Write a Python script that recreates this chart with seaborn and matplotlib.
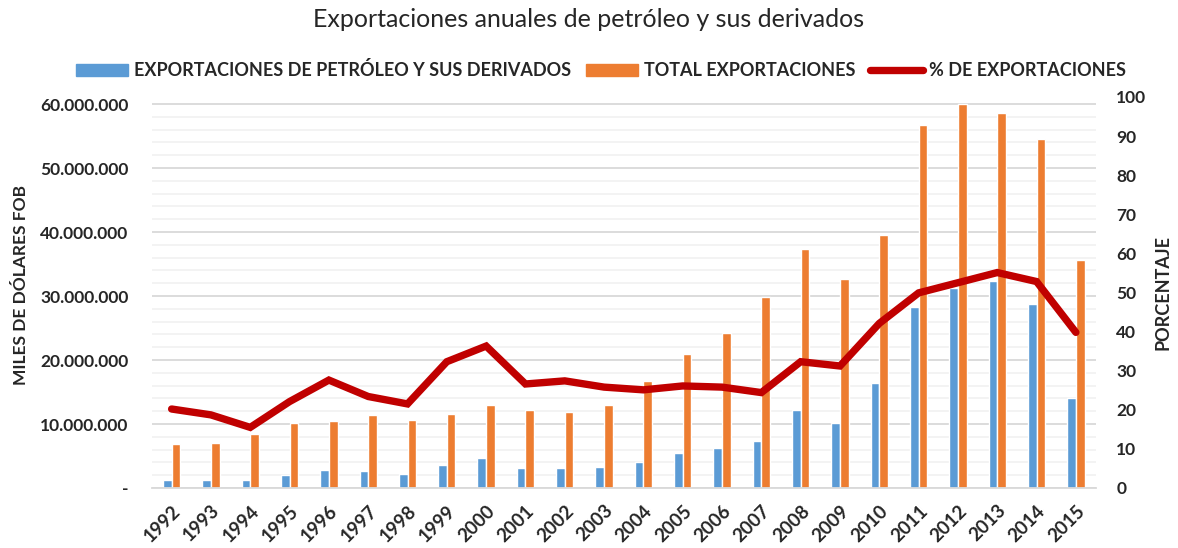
import matplotlib
matplotlib.use("Agg")
import matplotlib.pyplot as plt
import matplotlib.ticker as mtick
from matplotlib.patches import Patch
from matplotlib.lines import Line2D
import numpy as np
import pandas as pd
import seaborn as sns

sns.set_theme(style="white")
plt.rcParams["font.family"] = ["Lato", "DejaVu Sans"]

# values (miles de dólares FOB, and % share)
years = [str(y) for y in range(1992, 2016)]
petroleo = [1.3, 1.25, 1.2, 2.07, 2.8, 2.6, 2.2, 3.6, 4.7, 3.2, 3.2, 3.3,
            4.1, 5.4, 6.2, 7.3, 12.2, 10.2, 16.4, 28.3, 31.3, 32.3, 28.8, 14.1]
total = [6.8, 7.06, 8.4, 10.1, 10.5, 11.4, 10.7, 11.5, 13.0, 12.2, 11.8, 13.0,
         16.7, 21.0, 24.2, 29.9, 37.4, 32.7, 39.6, 56.7, 60.0, 58.6, 54.6, 35.6]
porcentaje = [20.2, 18.7, 15.5, 22.1, 27.6, 23.4, 21.5, 32.3, 36.3, 26.6, 27.4, 25.8,
              25.1, 26.1, 25.8, 24.4, 32.3, 31.2, 42.1, 49.9, 52.5, 55.1, 52.8, 39.8]

lbl_pet = "EXPORTACIONES DE PETRÓLEO Y SUS DERIVADOS"
lbl_tot = "TOTAL EXPORTACIONES"
lbl_pct = "% DE EXPORTACIONES"
BLUE, ORANGE, RED = "#5B9BD5", "#ED7D31", "#C00000"

df = pd.DataFrame({
    "year": years * 2,
    "value": [v * 1e6 for v in petroleo + total],
    "serie": [lbl_pet] * len(years) + [lbl_tot] * len(years),
})

fig = plt.figure(figsize=(11.78, 5.48), dpi=100)
ax = fig.add_axes([0.129, 0.1095, 0.801, 0.7135])

sns.barplot(data=df, x="year", y="value", hue="serie", palette=[BLUE, ORANGE],
            width=0.44, gap=0, ax=ax, legend=False, saturation=1)
ax.set_ylim(0, 61.1e6)
ax.set_xlim(-0.5, len(years) - 0.5)
ax.yaxis.set_major_locator(mtick.MultipleLocator(10e6))
ax.yaxis.set_minor_locator(mtick.MultipleLocator(2e6))
ax.yaxis.set_major_formatter(mtick.FuncFormatter(
    lambda v, p: "-" if v == 0 else f"{v:,.0f}".replace(",", ".")))
ax.grid(axis="y", which="major", color="#D9D9D9", lw=1.3)
ax.grid(axis="y", which="minor", color="#F2F2F2", lw=1.3)
ax.set_axisbelow(True)
for s in ["top", "right", "left"]:
    ax.spines[s].set_visible(False)
ax.spines["bottom"].set_color("#D9D9D9")
ax.spines["bottom"].set_linewidth(1.3)
ax.xaxis.set_minor_locator(mtick.FixedLocator(np.arange(-0.5, len(years), 1)))
ax.tick_params(axis="x", which="minor", length=6, color="#D9D9D9", width=1.3)
ax.tick_params(axis="x", which="major", length=0, pad=10)
ax.tick_params(axis="y", which="both", length=0, pad=17)
plt.setp(ax.get_xticklabels(), rotation=45, ha="right", rotation_mode="anchor",
         fontsize=13.5, fontweight="bold")
plt.setp(ax.get_yticklabels(), fontsize=12.5, fontweight="bold")
ax.set_xlabel("")
ax.set_ylabel("MILES DE DÓLARES FOB", fontsize=12.5, fontweight="bold")
ax.yaxis.set_label_coords(-0.130, 0.52)

ax2 = ax.twinx()
sns.lineplot(x=np.arange(len(years)), y=porcentaje, color=RED, lw=5.3, ax=ax2,
             solid_capstyle="round", solid_joinstyle="miter")
ax2.set_ylim(0, 100)
ax2.yaxis.set_major_locator(mtick.MultipleLocator(10))
for s in ax2.spines.values():
    s.set_visible(False)
ax2.tick_params(axis="y", length=0, pad=15, labelsize=12.5)
plt.setp(ax2.get_yticklabels(), fontweight="bold")
ax2.set_ylabel("PORCENTAJE", fontsize=13, fontweight="bold", labelpad=6)
ax2.grid(False)

handles = [Patch(color=BLUE, label=lbl_pet), Patch(color=ORANGE, label=lbl_tot),
           Line2D([], [], color=RED, lw=5.3, solid_capstyle="round", label=lbl_pct)]
fig.legend(handles=handles, loc="center", bbox_to_anchor=(0.51, 0.872), ncol=3,
           frameon=False, prop={"weight": "bold", "size": 13},
           handlelength=2.9, handleheight=0.6, handletextpad=0.35, columnspacing=0.8)

fig.suptitle("Exportaciones anuales de petróleo y sus derivados", fontsize=18, y=0.985)

fig.savefig("out.png", dpi=100)
